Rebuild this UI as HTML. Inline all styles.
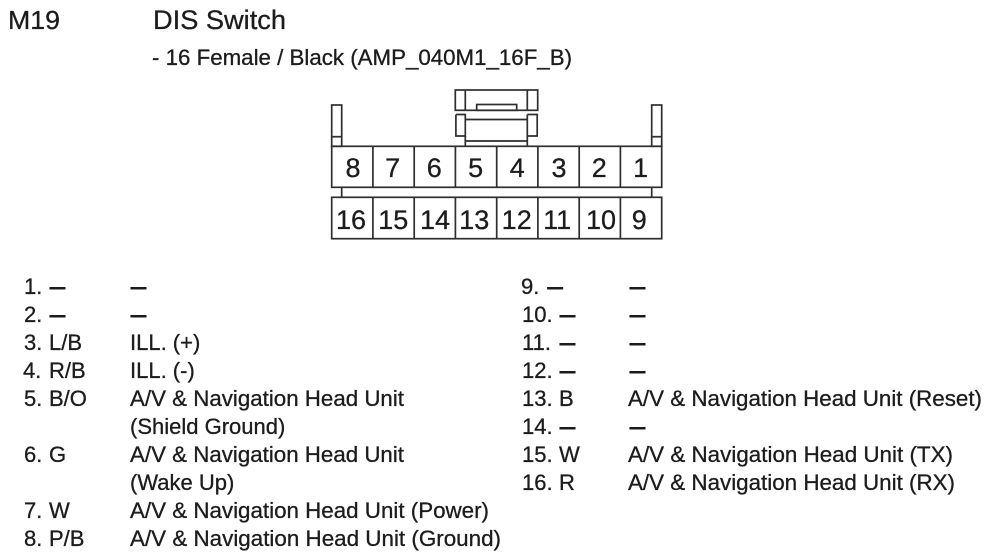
<!DOCTYPE html>
<html>
<head>
<meta charset="utf-8">
<style>
html,body{margin:0;padding:0;background:#fff;width:984px;height:554px;overflow:hidden}
svg{display:block}
text{font-family:"Liberation Sans",Arial,sans-serif;fill:#1c1c1c;stroke:#1c1c1c;stroke-width:.3px}
.t{font-size:22px}
.d{font-size:22px;stroke-width:.9px}
.c{font-size:27px;text-anchor:middle}
line,rect,path{stroke:#2e2e2e;stroke-width:1.7;fill:none}
</style>
</head>
<body>
<svg width="984" height="554" viewBox="0 0 984 554" xmlns="http://www.w3.org/2000/svg">
<text x="8" y="29" font-size="26" textLength="52" lengthAdjust="spacingAndGlyphs">M19</text>
<text x="153" y="29" font-size="27" textLength="133" lengthAdjust="spacingAndGlyphs">DIS Switch</text>
<text x="152" y="65" font-size="22" textLength="420" lengthAdjust="spacingAndGlyphs">- 16 Female / Black (AMP_040M1_16F_B)</text>

<!-- posts -->
<rect x="331.7" y="105" width="10" height="41.3"/>
<line x1="331.7" y1="136.7" x2="341.7" y2="136.7"/>
<rect x="651.7" y="105" width="10" height="41.3"/>
<line x1="651.7" y1="136.7" x2="661.7" y2="136.7"/>
<line x1="341.7" y1="187.3" x2="341.7" y2="197.3"/>
<line x1="651.7" y1="187.3" x2="651.7" y2="197.3"/>

<!-- latch -->
<rect x="455.3" y="90" width="82.4" height="20.3"/>
<line x1="465.3" y1="90" x2="465.3" y2="110.3"/>
<line x1="527.3" y1="90" x2="527.3" y2="110.3"/>
<rect x="476.7" y="104.5" width="40" height="5.8"/>
<path d="M455.9 114.5V136H465.3V114.5H455.9M527.3 114.5H537.2V136H527.3V114.5M465.3 119.5H527.3"/>
<line x1="465.3" y1="136" x2="465.3" y2="146.3"/>
<line x1="527.3" y1="136" x2="527.3" y2="146.3"/>
<line x1="465.3" y1="141" x2="527.3" y2="141"/>

<!-- rows -->
<rect x="331.7" y="146.3" width="330" height="41"/>
<rect x="331.7" y="197.3" width="330" height="41.4"/>
<path d="M372.9 146.3V187.3M414.2 146.3V187.3M455.4 146.3V187.3M496.7 146.3V187.3M537.9 146.3V187.3M579.2 146.3V187.3M620.4 146.3V187.3"/>
<path d="M372.9 197.3V238.7M414.2 197.3V238.7M455.4 197.3V238.7M496.7 197.3V238.7M537.9 197.3V238.7M579.2 197.3V238.7M620.4 197.3V238.7"/>

<text class="c" x="353" y="177">8</text>
<text class="c" x="392.7" y="177">7</text>
<text class="c" x="434.3" y="177">6</text>
<text class="c" x="475.7" y="177">5</text>
<text class="c" x="517.3" y="177">4</text>
<text class="c" x="559" y="177">3</text>
<text class="c" x="599.3" y="177">2</text>
<text class="c" x="640.7" y="177">1</text>
<text class="c" x="351" y="229">16</text>
<text class="c" x="393.3" y="229">15</text>
<text class="c" x="435" y="229">14</text>
<text class="c" x="474.3" y="229">13</text>
<text class="c" x="516.7" y="229">12</text>
<text class="c" x="557.3" y="229">11</text>
<text class="c" x="601" y="229">10</text>
<text class="c" x="639.3" y="229">9</text>

<!-- left list -->
<text class="t" x="24" y="294">1.</text><text class="d" x="50" y="294" textLength="15" lengthAdjust="spacingAndGlyphs">–</text><text class="d" x="131" y="294" textLength="15" lengthAdjust="spacingAndGlyphs">–</text>
<text class="t" x="24" y="322">2.</text><text class="d" x="50" y="322" textLength="15" lengthAdjust="spacingAndGlyphs">–</text><text class="d" x="131" y="322" textLength="15" lengthAdjust="spacingAndGlyphs">–</text>
<text class="t" x="24" y="350">3.</text><text class="t" x="49" y="350">L/B</text><text class="t" x="130" y="350">ILL. (+)</text>
<text class="t" x="23" y="378">4.</text><text class="t" x="49" y="378">R/B</text><text class="t" x="130" y="378">ILL. (-)</text>
<text class="t" x="24" y="406">5.</text><text class="t" x="49" y="406">B/O</text><text class="t" x="130" y="406" textLength="274" lengthAdjust="spacingAndGlyphs">A/V &amp; Navigation Head Unit</text>
<text class="t" x="130" y="434">(Shield Ground)</text>
<text class="t" x="24" y="462">6.</text><text class="t" x="49" y="462">G</text><text class="t" x="130" y="462" textLength="274" lengthAdjust="spacingAndGlyphs">A/V &amp; Navigation Head Unit</text>
<text class="t" x="130" y="490">(Wake Up)</text>
<text class="t" x="24" y="518">7.</text><text class="t" x="49" y="518">W</text><text class="t" x="130" y="518" textLength="359" lengthAdjust="spacingAndGlyphs">A/V &amp; Navigation Head Unit (Power)</text>
<text class="t" x="24" y="546">8.</text><text class="t" x="49" y="546">P/B</text><text class="t" x="130" y="546" textLength="371" lengthAdjust="spacingAndGlyphs">A/V &amp; Navigation Head Unit (Ground)</text>

<!-- right list -->
<text class="t" x="521" y="294">9.</text><text class="d" x="547.7" y="294" textLength="15" lengthAdjust="spacingAndGlyphs">–</text><text class="d" x="630" y="294" textLength="15" lengthAdjust="spacingAndGlyphs">–</text>
<text class="t" x="522" y="322">10.</text><text class="d" x="560" y="322" textLength="15" lengthAdjust="spacingAndGlyphs">–</text><text class="d" x="630" y="322" textLength="15" lengthAdjust="spacingAndGlyphs">–</text>
<text class="t" x="522" y="350">11.</text><text class="d" x="560" y="350" textLength="15" lengthAdjust="spacingAndGlyphs">–</text><text class="d" x="630" y="350" textLength="15" lengthAdjust="spacingAndGlyphs">–</text>
<text class="t" x="522" y="378">12.</text><text class="d" x="560" y="378" textLength="15" lengthAdjust="spacingAndGlyphs">–</text><text class="d" x="630" y="378" textLength="15" lengthAdjust="spacingAndGlyphs">–</text>
<text class="t" x="522" y="406">13.</text><text class="t" x="559" y="406">B</text><text class="t" x="628" y="406" textLength="354" lengthAdjust="spacingAndGlyphs">A/V &amp; Navigation Head Unit (Reset)</text>
<text class="t" x="522" y="434">14.</text><text class="d" x="560" y="434" textLength="15" lengthAdjust="spacingAndGlyphs">–</text><text class="d" x="630" y="434" textLength="15" lengthAdjust="spacingAndGlyphs">–</text>
<text class="t" x="522" y="462">15.</text><text class="t" x="559" y="462">W</text><text class="t" x="628" y="462" textLength="325" lengthAdjust="spacingAndGlyphs">A/V &amp; Navigation Head Unit (TX)</text>
<text class="t" x="522" y="490">16.</text><text class="t" x="559" y="490">R</text><text class="t" x="628" y="490" textLength="327" lengthAdjust="spacingAndGlyphs">A/V &amp; Navigation Head Unit (RX)</text>
</svg>
</body>
</html>
